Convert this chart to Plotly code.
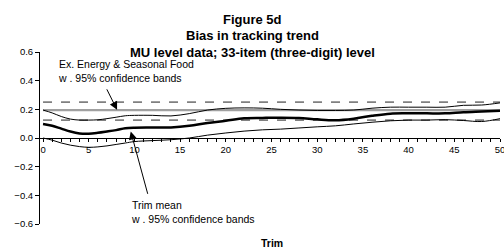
import plotly.graph_objects as go

# ---- data ----
trim = [0, 1, 2, 3, 4, 5, 6, 7, 8, 9, 10, 12, 14, 16, 18, 20, 22, 24, 26, 28,
        30, 32, 34, 36, 38, 40, 42, 44, 46, 48, 50]
trim_mean = [0.097, 0.085, 0.065, 0.045, 0.032, 0.030, 0.036, 0.045, 0.055, 0.068, 0.072,
             0.073, 0.074, 0.085, 0.105, 0.120, 0.137, 0.140, 0.142, 0.140,
             0.130, 0.124, 0.135, 0.155, 0.170, 0.172, 0.172, 0.172, 0.180, 0.185, 0.190]
trim_upper = [0.195, 0.175, 0.150, 0.132, 0.125, 0.125, 0.127, 0.135, 0.145, 0.155, 0.158,
              0.158, 0.154, 0.170, 0.195, 0.207, 0.210, 0.208, 0.200, 0.195,
              0.192, 0.192, 0.195, 0.208, 0.215, 0.215, 0.215, 0.215, 0.228, 0.230, 0.245]
trim_lower = [0.000, -0.015, -0.035, -0.050, -0.060, -0.065, -0.062, -0.055, -0.045, -0.035, -0.025,
              -0.018, -0.012, 0.000, 0.020, 0.035, 0.048, 0.057, 0.062, 0.070,
              0.078, 0.085, 0.098, 0.110, 0.120, 0.125, 0.125, 0.128, 0.122, 0.115, 0.135]

ex_trim = [0, 50]
ex_mean = [0.195, 0.195]
ex_upper = [0.25, 0.25]
ex_lower = [0.125, 0.125]

y_ticks = [-0.6, -0.4, -0.2, 0.0, 0.2, 0.4, 0.6]

FONT = "Liberation Sans, Arial, sans-serif"

fig = go.Figure()
# Ex. Energy & Seasonal Food
fig.add_trace(go.Scatter(x=ex_trim, y=ex_upper, mode="lines",
                         line=dict(color="#808080", width=1.6, dash="dash")))
fig.add_trace(go.Scatter(x=ex_trim, y=ex_lower, mode="lines",
                         line=dict(color="#808080", width=1.6, dash="dash")))
fig.add_trace(go.Scatter(x=ex_trim, y=ex_mean, mode="lines",
                         line=dict(color="#a0a0a0", width=2.2)))
# Trim mean
fig.add_trace(go.Scatter(x=trim, y=trim_upper, mode="lines", line_shape="spline",
                         line=dict(color="black", width=1)))
fig.add_trace(go.Scatter(x=trim, y=trim_lower, mode="lines", line_shape="spline",
                         line=dict(color="black", width=1)))
fig.add_trace(go.Scatter(x=trim, y=trim_mean, mode="lines", line_shape="spline",
                         line=dict(color="black", width=2.5)))

ann = []
# titles
for txt, yy in [("Figure 5d", 1.19), ("Bias in tracking trend", 1.097),
                ("MU level data; 33-item (three-digit) level", 1.0)]:
    ann.append(dict(text="<b>%s</b>" % txt, xref="paper", yref="paper", x=0.463, y=yy,
                    xanchor="center", yanchor="middle", showarrow=False,
                    font=dict(size=13, color="black", family=FONT)))
# x axis title
ann.append(dict(text="<b>Trim</b>", xref="paper", yref="paper", x=(272 - 40) / 460, y=(224 - 243) / 172,
                xanchor="center", yanchor="middle", showarrow=False,
                font=dict(size=10.5, color="black", family=FONT)))
# labels
ann.append(dict(text="Ex. Energy & Seasonal Food<br>w . 95% confidence bands",
                xref="x", yref="y", x=1.4, y=0.575, xanchor="left", yanchor="top",
                align="left", showarrow=False,
                font=dict(size=10.5, color="black", family=FONT)))
ann.append(dict(text="Trim mean<br>w . 95% confidence bands",
                xref="x", yref="y", x=9.45, y=-0.41, xanchor="left", yanchor="top",
                align="left", showarrow=False,
                font=dict(size=10.5, color="black", family=FONT)))
# arrows
ann.append(dict(text="", x=8.1, y=0.197, xref="x", yref="y", ax=6.9, ay=0.35,
                axref="x", ayref="y", showarrow=True, arrowhead=2, arrowsize=1.6,
                arrowwidth=1, arrowcolor="black"))
ann.append(dict(text="", x=9.6, y=0.045, xref="x", yref="y", ax=11.5, ay=-0.40,
                axref="x", ayref="y", showarrow=True, arrowhead=2, arrowsize=1.6,
                arrowwidth=1, arrowcolor="black"))

fig.update_layout(
    width=504, height=250,
    margin=dict(l=40, r=4, t=52, b=26),
    paper_bgcolor="white", plot_bgcolor="white",
    showlegend=False,
    font=dict(family=FONT, size=9, color="black"),
    annotations=ann,
    xaxis=dict(range=[-0.33, 50], anchor="free", position=0.5, automargin=False,
               showline=True, linecolor="black", linewidth=1,
               tickmode="linear", tick0=0, dtick=5,
               ticks="outside", ticklen=3, tickcolor="black", tickwidth=1,
               minor=dict(dtick=1, tick0=0, ticks="outside", ticklen=3,
                          tickcolor="black", tickwidth=1, showgrid=False),
               ticklabeloverflow="allow",
               showgrid=False, zeroline=False,
               tickfont=dict(size=9.5, family=FONT)),
    yaxis=dict(range=[-0.6, 0.6], showline=True, linecolor="black", linewidth=1,
               automargin=False,
               tickvals=y_ticks, tickformat=".1f", ticks="outside", ticklen=4,
               tickcolor="black", showgrid=False, zeroline=False,
               tickfont=dict(size=9.5, family=FONT)),
)

fig.write_html("out.html", config={"displayModeBar": False},
               post_script="document.body.style.margin='0';")
